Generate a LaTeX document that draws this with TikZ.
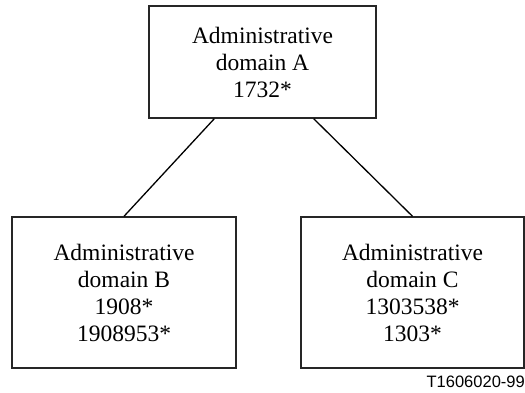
\documentclass[tikz,border=0pt]{standalone}
\usepackage{fontspec}
\setmainfont{Liberation Serif}
\setsansfont{Liberation Sans}
\begin{document}
\begin{tikzpicture}[x=1pt,y=1pt,
  domainbox/.style={draw=black!85,line width=1.4pt,align=center,inner sep=0pt,
    font=\fontsize{23.5}{27}\selectfont},
  link/.style={draw=black,line width=1.3pt}]
\useasboundingbox (0,0) rectangle (525,392);
\node[domainbox,minimum width=227pt,minimum height=112pt] (A) at (262.5,330)
  {Administrative\\domain A\\1732*};
\node[domainbox,minimum width=224pt,minimum height=151pt] (B) at (124,99.5)
  {Administrative\\domain B\\1908*\\1908953*};
\node[domainbox,minimum width=223pt,minimum height=151pt] (C) at (412.5,99.5)
  {Administrative\\domain C\\1303538*\\1303*};
\draw[link] ([xshift=66pt]A.south west) -- (B.north);
\draw[link] ([xshift=-63pt]A.south east) -- (C.north);
\node[anchor=base east,inner sep=0pt,font=\sffamily\fontsize{16.5}{18}\selectfont] (lbl) at (525,5) {T1606020-99};
\end{tikzpicture}
\end{document}
